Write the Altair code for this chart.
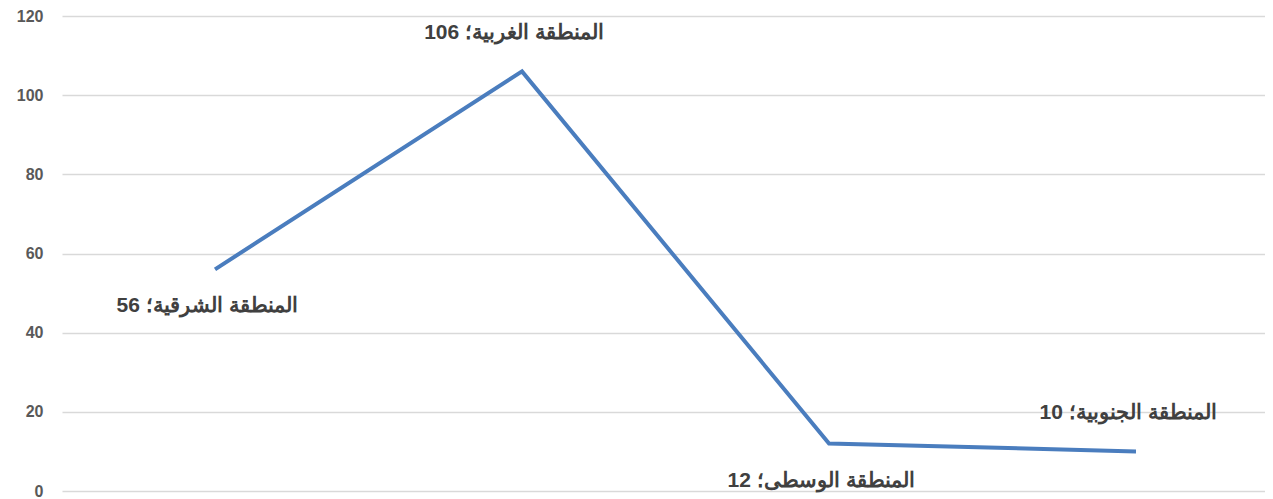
import altair as alt
import pandas as pd

regions = ["المنطقة الشرقية", "المنطقة الغربية", "المنطقة الوسطى", "المنطقة الجنوبية"]
values = [56, 106, 12, 10]
label_side = ["below", "above", "below", "above"]
y_ticks = [0, 20, 40, 60, 80, 100, 120]

df = pd.DataFrame({
    "region": regions,
    "value": values,
    "side": label_side,
    "label": [f"{r}؛ {v}" for r, v in zip(regions, values)],
})

x_enc = alt.X("region:N", sort=regions,
              scale=alt.Scale(type="point", padding=0.4593, align=0.5426),
              axis=None)
y_enc = alt.Y("value:Q", scale=alt.Scale(domain=[0, 120]),
              axis=alt.Axis(values=y_ticks, title=None, domain=False, ticks=False,
                            tickSize=0, labelPadding=19, labelFont="Liberation Sans",
                            labelFontSize=16, labelFontWeight="bold",
                            labelColor="#595959", gridColor="#d9d9d9",
                            gridWidth=1.5))

base = alt.Chart(df)
line = base.mark_line(color="#4A7DBE", strokeWidth=4).encode(x=x_enc, y=y_enc)

text_style = dict(font="Liberation Sans", fontSize=21, fontWeight="bold",
                  color="#404040", dx=-8)
above = base.transform_filter(alt.datum.side == "above").mark_text(
    dy=-38, **text_style).encode(x=x_enc, y=y_enc, text="label:N")
below = base.transform_filter(alt.datum.side == "below").mark_text(
    dy=37, **text_style).encode(x=x_enc, y=y_enc, text="label:N")

chart = (line + above + below).properties(
    width=1203, height=475,
    autosize=alt.AutoSizeParams(type="none"),
    padding={"left": 54, "top": 8, "right": 0, "bottom": 8},
).configure_view(stroke=None)

chart.save("out.html", embed_options={"renderer": "svg", "actions": False})
